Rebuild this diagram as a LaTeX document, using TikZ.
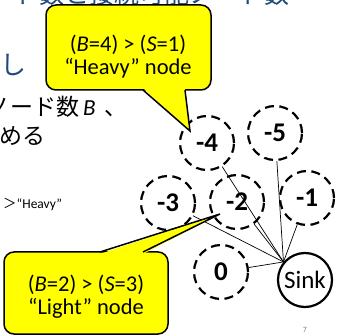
\documentclass[tikz,border=0pt]{standalone}
\usepackage{fontspec}
\setmainfont{Carlito}
\newfontfamily\jp{Noto Sans CJK JP}
\definecolor{titleblue}{RGB}{31,73,125}
\definecolor{calloutyellow}{RGB}{255,255,0}
\begin{document}
\begin{tikzpicture}[x=1pt,y=-1pt,
  dnode/.style={circle,draw,dashed,dash pattern=on 9pt off 5.5pt,line width=2.2pt,minimum size=54pt,inner sep=0pt,font=\fontsize{27}{27}\selectfont\bfseries},
  snode/.style={circle,draw,line width=2.2pt,minimum size=54pt,inner sep=0pt,font=\fontsize{25}{25}\selectfont},
  link/.style={line width=0.7pt},
  cbox/.style={fill=calloutyellow,draw,line width=1.5pt,rounded corners=10pt},
  ctext/.style={align=center,font=\fontsize{22.5}{23}\selectfont},
  jtext/.style={font=\jp\fontsize{23}{23}\selectfont,inner sep=0pt}]
\useasboundingbox (0,0) rectangle (337,336);
% background slide text
\node[jtext,text=titleblue,anchor=base east,font=\jp\fontsize{25}{25}\selectfont] (title) at (290,4) {ノード数と接続可能ノード数};
\node[jtext,text=titleblue,anchor=base east,font=\jp\fontsize{26}{26}\selectfont] (nashi) at (27,75) {無し};
\node[jtext,anchor=base west] (t1) at (-13,116) {ノード数\hspace{4pt}{\rmfamily\itshape B}\hspace{9pt}、};
\node[jtext,anchor=base west] (t2) at (-1,145) {める};
\node[anchor=base west,inner sep=0pt,font=\fontsize{13.5}{13.5}\selectfont] (t3) at (3,209) {{\jp ＞}“Heavy”};
\node[text=gray,font=\fontsize{8}{8}\selectfont] (pg) at (305,330) {7};
% nodes
\node[dnode] (m4) at (207,143) {-4};
\node[dnode] (m5) at (275,133) {-5};
\node[dnode] (m1) at (307,198) {-1};
\node[dnode] (m2) at (237,202) {-2};
\node[dnode] (m3) at (168,203) {-3};
\node[dnode] (z0) at (221,272) {0};
\node[snode] (sink) at (305,280) {Sink};
% links
\foreach \n in {m4,m5,m1,m2,m3,z0} \draw[link] (sink.140) -- (\n);
% heavy callout
\draw[cbox] (46,5) rectangle (211,90);
\fill[calloutyellow] (143,88) -- (190,131) -- (185,88) -- cycle;
\draw[line width=1.5pt,line join=miter] (143,90) -- (190,131) -- (185,90);
\node[ctext] (heavy) at (128,57) {(\textit{B}=4) > (\textit{S}=1)\\“Heavy” node};
% light callout
\draw[cbox] (4,252) rectangle (168,334);
\fill[calloutyellow] (100,254) -- (220,214) -- (143,254) -- cycle;
\draw[line width=1.5pt,line join=miter] (100,252) -- (220,214) -- (143,252);
\node[ctext] (light) at (86,297) {(\textit{B}=2) > (\textit{S}=3)\\“Light” node};
\end{tikzpicture}
\end{document}
